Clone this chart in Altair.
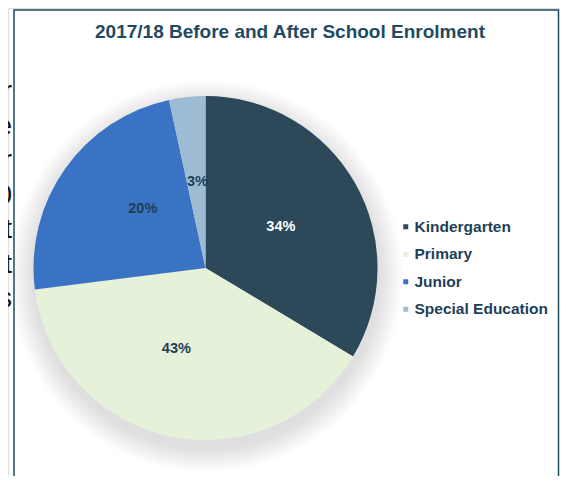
import altair as alt
import pandas as pd

# ---- data ----
categories = ["Kindergarten", "Primary", "Junior", "Special Education"]
slice_share = [33.6, 39.4, 23.6, 3.4]      # wedge sizes as drawn
label_pct = [34, 43, 20, 3]                # printed percentage labels
colors = ["#2c4859", "#e5f1d8", "#3b73c4", "#9dbcd3"]
title_text = "2017/18 Before and After School Enrolment"
margin_letters = ["r", "e", "r", "0", "t", "t", "s"]

W, H = 552, 468
CX, CY, R = 197.5, 260, 172
DARK = "#1d3f57"

df = pd.DataFrame({
    "category": categories,
    "share": slice_share,
    "pct": label_pct,
    "order": list(range(len(categories))),
    "label": [f"{p}%" for p in label_pct],
})
one = pd.DataFrame({"a": [0]})
letters = pd.DataFrame({"ch": margin_letters, "i": list(range(len(margin_letters)))})

color_scale = alt.Scale(domain=categories, range=colors)

# box border
box = alt.Chart(one).mark_rect(fill="white", stroke="#1d4b5e", strokeWidth=1.5).encode(
    x=alt.value(6), x2=alt.value(550.5), y=alt.value(2), y2=alt.value(H + 20)
)

# soft drop shadow rings
shadow_layers = []
for k in range(16, 0, -1):
    shadow_layers.append(
        alt.Chart(one).mark_arc(radius=R + 1.5 * k, fill="#707085", opacity=0.015, stroke=None).encode(
            theta=alt.value(6.2832), x=alt.value(CX + 1), y=alt.value(CY + 8)
        )
    )

pie = alt.Chart(df).mark_arc(radius=R, stroke=None).encode(
    theta=alt.Theta("share:Q", stack=True),
    order=alt.Order("order:Q"),
    color=alt.Color(
        "category:N", scale=color_scale, sort=categories,
        legend=alt.Legend(
            title=None, orient="none", legendX=390, legendY=211,
            symbolType="square", symbolSize=25, symbolStrokeWidth=0,
            labelFont="Liberation Sans", labelFontSize=15.5, labelFontWeight="bold",
            labelColor=DARK, rowPadding=10.5, labelOffset=1, padding=0,
        ),
    ),
    x=alt.value(CX), y=alt.value(CY),
)

labels = alt.Chart(df).mark_text(
    radius=86, font="Liberation Sans", fontSize=14.5, fontWeight="bold"
).encode(
    theta=alt.Theta("pct:Q", stack=True),
    order=alt.Order("order:Q"),
    text="label:N",
    color=alt.condition(alt.datum.category == "Kindergarten", alt.value("#ffffff"), alt.value(DARK)),
    x=alt.value(CX), y=alt.value(CY),
)

title = alt.Chart(one).mark_text(
    text=title_text, font="Liberation Sans", fontSize=19, fontWeight="bold",
    color="#1f4a5f", baseline="middle", align="center",
).encode(x=alt.value(282), y=alt.value(24))

side = alt.Chart(letters).mark_text(
    font="Liberation Sans", fontSize=27, color="#111111", align="right", baseline="alphabetic"
).encode(
    text="ch:N",
    x=alt.value(4),
    y=alt.Y("i:Q", scale=alt.Scale(domain=[0, 6], range=[92, 299]), axis=None),
)

chart = alt.layer(box, *shadow_layers, pie, labels, title, side).resolve_scale(
    theta="independent", y="independent"
).properties(
    width=W, height=H, padding=0, autosize=alt.AutoSizeParams(type="none")
).configure_view(stroke=None).configure(background="white")

chart.save("out.html", embed_options={"renderer": "svg", "actions": False})
